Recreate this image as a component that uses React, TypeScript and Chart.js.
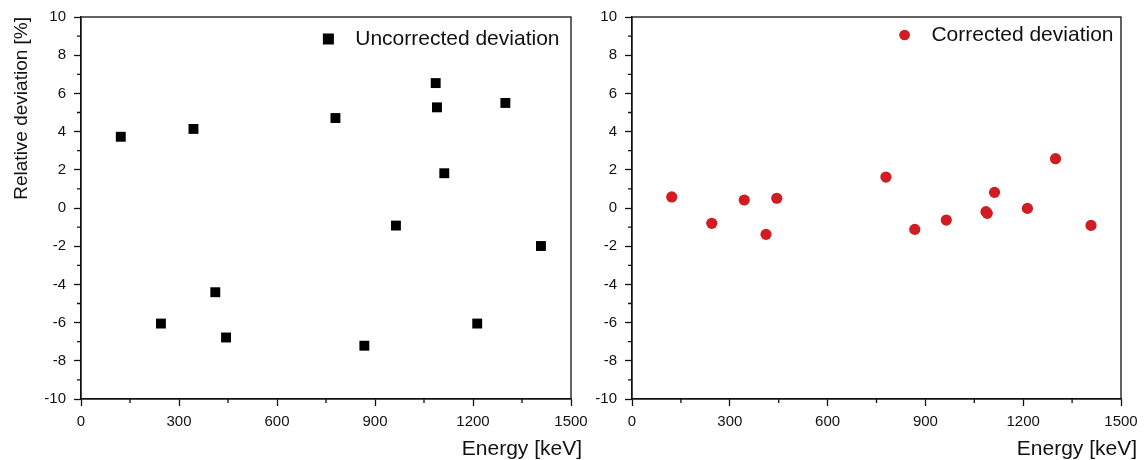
import React, { useEffect, useRef } from 'react';
import { Chart, registerables } from 'chart.js';

Chart.register(...registerables);

// ---- data ----
const energies = [121.8, 244.7, 344.3, 411.1, 444.0, 778.9, 867.4, 964.1, 1085.8, 1089.7, 1112.1, 1212.9, 1299.1, 1408.0];
const uncorrected = [3.73, -6.05, 4.14, -4.41, -6.78, 4.71, -7.21, -0.92, 6.54, 5.27, 1.82, -6.05, 5.5, -1.99];
const corrected = [0.58, -0.8, 0.42, -1.38, 0.51, 1.62, -1.12, -0.63, -0.19, -0.28, 0.82, -0.02, 2.58, -0.91];

const xRange = [0, 1500];
const xStep = 300;
const yRange = [-10, 10];
const yStep = 2;

const seriesLabels = ['Uncorrected deviation', 'Corrected deviation'];
const xTitle = 'Energy [keV]';
const yTitle = 'Relative deviation [%]';

const FAMILY = "'Liberation Sans', Arial, Helvetica, sans-serif";
const INK = '#111111';
const RED = '#D01C22';

interface PanelSpec {
  label: string;
  values: number[];
  color: string;
  pointStyle: 'rect' | 'circle';
  radius: number;
  legendBoxH: number;
  legendPad: number;
  yTitle: string | null;
  left: number;
  width: number;
  yWidth: number;
  padRight: number;
  xTitleDx: number;
}

const panels: PanelSpec[] = [
  {
    label: seriesLabels[0], values: uncorrected, color: '#000000', pointStyle: 'rect', radius: 7,
    legendBoxH: 11, legendPad: 11.5, yTitle: yTitle, left: 0, width: 590, yWidth: 81, padRight: 19, xTitleDx: 11,
  },
  {
    label: seriesLabels[1], values: corrected, color: RED, pointStyle: 'circle', radius: 5.6,
    legendBoxH: 7.6, legendPad: 7.5, yTitle: null, left: 590, width: 554, yWidth: 42, padRight: 23, xTitleDx: 16,
  },
];

const HEIGHT = 460;

function makeConfig(spec: PanelSpec): any {
  const legendOverlay = {
    id: 'legendOverlay',
    beforeInit(chart: any) {
      const legend = chart.legend;
      if (!legend) return;
      const fit = legend.fit;
      legend.fit = function () {
        fit.call(this);
        this._fullH = this.height;
        this.height = 0;
      };
    },
    afterLayout(chart: any) {
      const l = chart.legend;
      if (!l || l._fullH === undefined) return;
      l.height = l._fullH;
      l.bottom = l.top + l.height;
    },
  };

  const frameDecor = {
    id: 'frameDecor',
    afterDraw(chart: any) {
      const { ctx, chartArea: a } = chart;
      const xs = chart.scales.x;
      const ys = chart.scales.y;
      ctx.save();
      ctx.strokeStyle = INK;
      ctx.lineWidth = 1.3;
      ctx.strokeRect(a.left, a.top, a.right - a.left, a.bottom - a.top);
      // minor ticks half-way between major ticks
      ctx.beginPath();
      const xt = xs.ticks.map((t: any) => t.value);
      for (let i = 0; i < xt.length - 1; i++) {
        const px = xs.getPixelForValue((xt[i] + xt[i + 1]) / 2);
        ctx.moveTo(px, a.bottom);
        ctx.lineTo(px, a.bottom + 4);
      }
      const yt = ys.ticks.map((t: any) => t.value);
      for (let i = 0; i < yt.length - 1; i++) {
        const py = ys.getPixelForValue((yt[i] + yt[i + 1]) / 2);
        ctx.moveTo(a.left, py);
        ctx.lineTo(a.left - 4, py);
      }
      ctx.stroke();
      // x axis title, right aligned past the frame
      ctx.font = `21px ${FAMILY}`;
      ctx.fillStyle = INK;
      ctx.textAlign = 'right';
      ctx.textBaseline = 'middle';
      ctx.fillText(xTitle, a.right + spec.xTitleDx, 449.5);
      ctx.restore();
    },
  };

  const tickFont = { family: FAMILY, size: 15 };
  const grid = {
    display: true,
    drawOnChartArea: false,
    drawTicks: true,
    tickLength: 7,
    tickWidth: 1.3,
    tickColor: INK,
  };
  const border = { display: true, color: INK, width: 1.3 };

  return {
    type: 'scatter',
    data: {
      datasets: [
        {
          label: spec.label,
          data: energies.map((x, i) => ({ x, y: spec.values[i] })),
          backgroundColor: spec.color,
          borderColor: spec.color,
          borderWidth: 0,
          pointStyle: spec.pointStyle,
          pointRadius: spec.radius,
          pointHoverRadius: spec.radius,
        },
      ],
    },
    options: {
      animation: false,
      responsive: false,
      events: [],
      layout: { padding: { left: 0, top: 17, right: spec.padRight, bottom: 0 } },
      scales: {
        x: {
          type: 'linear',
          min: xRange[0],
          max: xRange[1],
          afterFit(s: any) {
            s.height = 61;
            s.paddingLeft = 0;
            s.paddingRight = 0;
          },
          ticks: {
            stepSize: xStep,
            padding: 7,
            font: tickFont,
            color: INK,
            maxRotation: 0,
            autoSkip: false,
            callback: (v: any) => String(v),
          },
          grid,
          border,
          title: { display: false },
        },
        y: {
          type: 'linear',
          min: yRange[0],
          max: yRange[1],
          afterFit(s: any) {
            s.width = spec.yWidth;
            s.paddingTop = 0;
            s.paddingBottom = 0;
          },
          ticks: {
            stepSize: yStep,
            padding: 8,
            font: tickFont,
            color: INK,
            autoSkip: false,
            callback: (v: any) => String(v),
          },
          grid,
          border,
          title: {
            display: !!spec.yTitle,
            text: spec.yTitle || '',
            align: 'end',
            color: INK,
            font: { family: FAMILY, size: 19 },
            padding: { top: 10.6, bottom: 0 },
          },
        },
      },
      plugins: {
        tooltip: { enabled: false },
        legend: {
          display: true,
          position: 'top',
          align: 'end',
          labels: {
            usePointStyle: true,
            boxWidth: 21,
            boxHeight: spec.legendBoxH,
            padding: spec.legendPad,
            color: INK,
            font: { family: FAMILY, size: 21 },
            generateLabels(chart: any) {
              const items = (Chart as any).defaults.plugins.legend.labels.generateLabels(chart);
              return items.map((it: any) => ({ ...it, text: ' ' + it.text }));
            },
          },
        },
      },
    },
    plugins: [legendOverlay, frameDecor],
  };
}

function Panel({ spec }: { spec: PanelSpec }) {
  const ref = useRef<HTMLCanvasElement | null>(null);
  useEffect(() => {
    if (!ref.current) return;
    const chart = new Chart(ref.current, makeConfig(spec));
    return () => chart.destroy();
  }, [spec]);
  return (
    <canvas
      ref={ref}
      width={spec.width}
      height={HEIGHT}
      style={{ position: 'absolute', left: spec.left, top: 0, width: spec.width, height: HEIGHT, display: 'block' }}
    />
  );
}

export default function App() {
  return (
    <div style={{ position: 'absolute', left: 0, top: 0, width: 1144, height: HEIGHT, background: '#ffffff' }}>
      {panels.map((p) => (
        <Panel key={p.label} spec={p} />
      ))}
    </div>
  );
}
